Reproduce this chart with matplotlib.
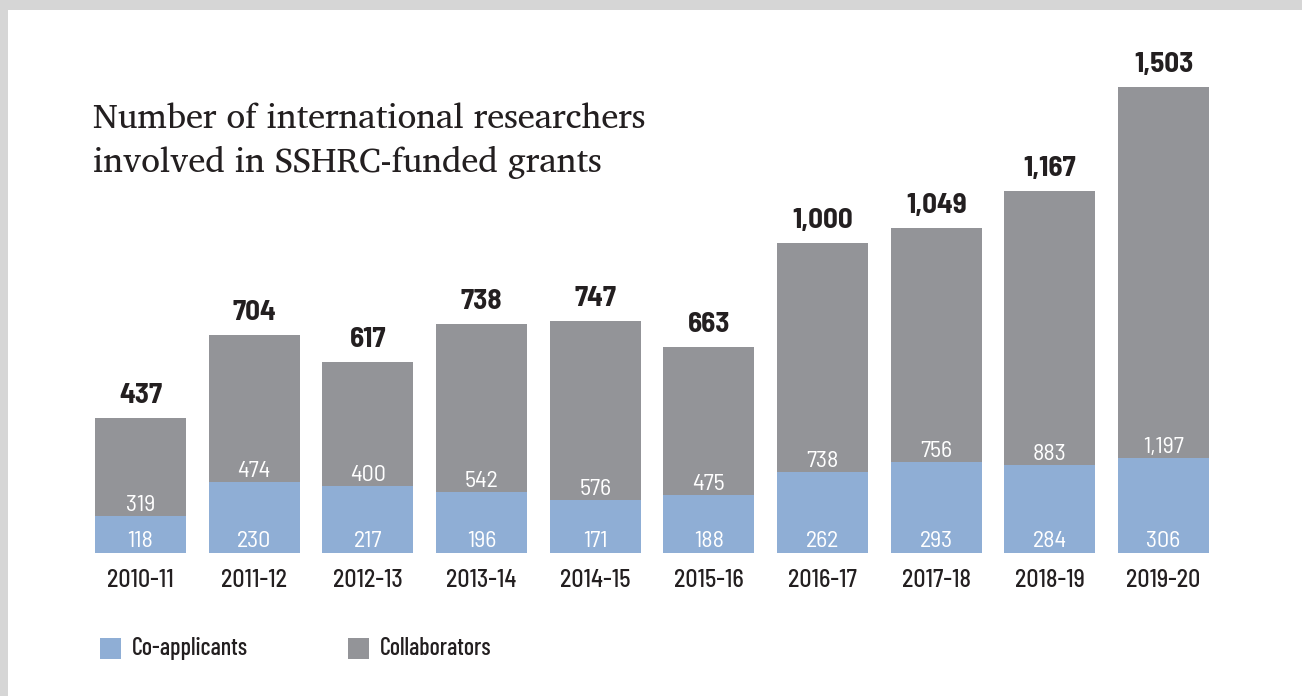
import matplotlib
matplotlib.use("Agg")
import matplotlib.pyplot as plt
from matplotlib.patches import Rectangle

years = ["2010-11", "2011-12", "2012-13", "2013-14", "2014-15",
         "2015-16", "2016-17", "2017-18", "2018-19", "2019-20"]
co_applicants = [118, 230, 217, 196, 171, 188, 262, 293, 284, 306]
collaborators = [319, 474, 400, 542, 576, 475, 738, 756, 883, 1197]

blue = "#8FAED5"
grey = "#939498"
ink = "#231F20"
narrow = ["Barlow Semi Condensed", "Barlow Condensed", "DejaVu Sans"]
condensed = ["Barlow Condensed", "DejaVu Sans"]
serif = ["Charis SIL", "DejaVu Serif"]

W, H = 1302, 696
fig = plt.figure(figsize=(W / 72, H / 72), dpi=72, facecolor="#D6D6D6")
fig.patches.append(Rectangle((8 / W, 0), 1, 1 - 10 / H, transform=fig.transFigure,
                             facecolor="white", edgecolor="none", zorder=-1))

pitch = 113.67
ax_left = 140.5 - pitch / 2
ax_bottom = H - 553
ax = fig.add_axes([ax_left / W, ax_bottom / H, 10 * pitch / W, 1700 * 0.31 / H])
ax.set_xlim(-0.5, 9.5)
ax.set_ylim(0, 1700)
ax.axis("off")

x = range(len(years))
ax.bar(x, co_applicants, width=0.8, color=blue)
ax.bar(x, collaborators, width=0.8, bottom=co_applicants, color=grey)

for i, (a, c) in enumerate(zip(co_applicants, collaborators)):
    total = a + c
    ax.annotate(f"{a:,}", (i, 0), xytext=(0, 6), textcoords="offset points",
                ha="center", va="baseline", color="white", fontsize=24, family=narrow)
    ax.annotate(f"{c:,}", (i, a), xytext=(0, 5), textcoords="offset points",
                ha="center", va="baseline", color="white", fontsize=24, family=narrow)
    ax.annotate(f"{total:,}", (i, total), xytext=(0, 15), textcoords="offset points",
                ha="center", va="baseline", color=ink, fontsize=29, fontweight="bold",
                family=narrow)
    ax.annotate(years[i], (i, 0), xytext=(0, -34), textcoords="offset points",
                ha="center", va="baseline", color=ink, fontsize=24, fontweight="medium",
                family=narrow)

fig.text(93 / W, 1 - 128 / H, "Number of international researchers", fontsize=34.5,
         family=serif, color=ink, va="baseline")
fig.text(93 / W, 1 - 172 / H, "involved in SSHRC-funded grants", fontsize=34.5,
         family=serif, color=ink, va="baseline")

# legend
for sx, col, label in [(100, blue, "Co-applicants"), (348, grey, "Collaborators")]:
    fig.patches.append(Rectangle((sx / W, 1 - 659 / H), 21 / W, 21 / H,
                                 transform=fig.transFigure, facecolor=col,
                                 edgecolor="none"))
    fig.text((sx + 32) / W, 1 - 655 / H, label, fontsize=24, fontweight="medium",
             family=condensed, color=ink, va="baseline")

fig.savefig("out.png", dpi=72, facecolor=fig.get_facecolor())
